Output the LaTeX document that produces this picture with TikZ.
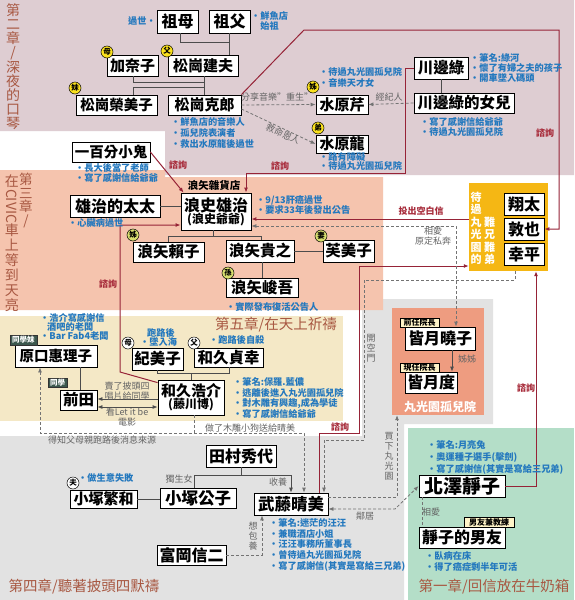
\documentclass[tikz,border=0pt]{standalone}
\usepackage{fontspec}
\setmainfont{Noto Sans CJK TC}
\usepackage{graphicx}
\usetikzlibrary{arrows.meta,shadows}
\definecolor{bgpink}{RGB}{222,205,210}
\definecolor{bgsalmon}{RGB}{245,196,174}
\definecolor{bgbeige}{RGB}{244,232,198}
\definecolor{bggray}{RGB}{226,226,226}
\definecolor{bggreen}{RGB}{180,222,200}
\definecolor{orph}{RGB}{238,156,128}
\definecolor{gold}{RGB}{245,183,20}
\definecolor{notec}{RGB}{35,120,190}
\definecolor{redc}{RGB}{168,45,60}
\definecolor{maroonc}{RGB}{150,35,55}
\definecolor{graytxt}{RGB}{100,100,100}
\definecolor{chap}{RGB}{168,88,66}
\definecolor{bdgY}{RGB}{250,225,30}
\definecolor{bdgG}{RGB}{215,222,110}
\definecolor{tagY}{RGB}{255,244,200}
\definecolor{tagD}{RGB}{60,88,78}
\newcounter{nid}
\newcommand\nbox[7]{\node[nm, minimum width={(#4)-(#2)}, minimum height={(#5)-(#3)}, font=\fontsize{#7}{#7}\selectfont\bfseries] (#1) at ({((#2)+(#4))/2},{((#3)+(#5))/2}) {#6};}
\newcommand\note[3]{\stepcounter{nid}\node[notes, anchor=west] (note\arabic{nid}) at (#1,#2) {#3};}
\newcommand\badge[4]{\stepcounter{nid}\node[badge, fill=#4] (bdg\arabic{nid}) at (#1,#2) {#3};}
\begin{document}
\begin{tikzpicture}[x=1pt,y=-1pt,
 nm/.style={draw=black, line width=0.8pt, fill=white, inner sep=0pt, drop shadow={shadow xshift=1.2pt, shadow yshift=-1.2pt, fill=black, opacity=0.3}},
 notes/.style={font=\fontsize{9.2}{10.5}\selectfont\bfseries, text=notec, inner sep=0pt, align=left},
 gl/.style={font=\fontsize{9}{10}\selectfont, text=graytxt, inner sep=0pt, align=center},
 rl/.style={font=\fontsize{9}{10}\selectfont\bfseries, text=redc, inner sep=0pt},
 chapv/.style={font=\fontsize{14}{14}\selectfont, text=chap, align=center, inner sep=0pt},
 chaph/.style={font=\fontsize{14.5}{15}\selectfont, text=chap, inner sep=0pt},
 vw/.style={font=\fontsize{11}{12.5}\selectfont\bfseries, text=white, align=center, inner sep=0pt},
 gv/.style={font=\fontsize{9}{10}\selectfont, text=graytxt, align=center, inner sep=0pt},
 badge/.style={circle, draw=black, line width=0.5pt, inner sep=0pt, minimum size=12pt, font=\fontsize{7.5}{7.5}\selectfont\bfseries},
 tagy/.style={draw=black, line width=0.5pt, fill=tagY, inner sep=0pt, font=\fontsize{8}{8}\selectfont\bfseries},
 tagd/.style={draw=black!80, line width=0.5pt, fill=tagD, text=white, inner sep=0pt, font=\fontsize{7.5}{7.5}\selectfont\bfseries},
 fam/.style={draw=black!70, line width=0.8pt},
 oneway/.style={-{Latex[length=5pt,width=4pt]}},
 twoway/.style={{Latex[length=5pt,width=4pt]}-{Latex[length=5pt,width=4pt]}},
 cons/.style={draw=maroonc, line width=1pt, -{Latex[length=5pt,width=4pt]}},
 rel/.style={draw=black!55, line width=0.8pt, dash pattern=on 3pt off 2pt},
]
\useasboundingbox (0,0) rectangle (574,600);
% ---------- backgrounds
\fill[white] (0,0) rectangle (574,600);
\fill[bgpink] (0,0) -- (574,0) -- (574,175) -- (165,175) -- (165,131) -- (0,131) -- cycle;
\fill[bggray] (0,436) -- (362,436) -- (362,299) -- (493,299) -- (493,424) -- (404,424) -- (404,600) -- (0,600) -- cycle;
\fill[bgsalmon] (0,170) -- (165,170) -- (165,177) -- (383,177) -- (383,310) -- (0,310) -- cycle;
\fill[bgbeige] (0,316) rectangle (343,421);
\fill[bggreen] (408,428) rectangle (574,600);
\node[fill=orph, minimum width=92, minimum height=107, inner sep=0pt] (maruko) at (438,361.5) {};
\node[fill=gold, minimum width=79, minimum height=88, inner sep=0pt] (bro) at (508.5,227) {};
% ---------- chapter titles
\node[chapv, anchor=north] (t2) at (13,3) {第\\二\\章\\/\\深\\夜\\的\\口\\琴};
\node[chapv, font=\fontsize{13.5}{13.5}\selectfont, anchor=north] (t3a) at (26,173) {第\\三\\章\\/};
\node[chapv, font=\fontsize{14}{15}\selectfont, anchor=north] (t3b) at (12,175) {在\\\rotatebox[origin=c]{-90}{CIVIC}\\車\\上\\等\\到\\天\\亮};
\node[chaph] (t5) at (276,325) {第五章/在天上祈禱};
\node[chaph] (t4) at (84,587) {第四章/聽著披頭四默禱};
\node[chaph] (t1) at (494,587) {第一章/回信放在牛奶箱};
% ---------- name boxes
\nbox{zumu}{157}{10}{198}{33}{祖母}{16}
\nbox{zufu}{209}{10}{250}{33}{祖父}{16}
\nbox{kanako}{107}{55}{158}{76}{加奈子}{15}
\nbox{tateo}{168}{55}{238}{76}{松崗建夫}{15}
\nbox{emiko}{76}{95}{157}{115}{松崗榮美子}{14.5}
\nbox{katsuro}{168}{95}{241}{115}{松崗克郎}{15}
\nbox{seri}{316}{95}{368}{114}{水原芹}{15}
\nbox{ryu}{316}{135}{368}{153}{水原龍}{15}
\nbox{midori}{414}{57}{468}{79}{川邊綠}{15.5}
\nbox{daughter}{414}{93}{514}{113}{川邊綠的女兒}{15.5}
\nbox{kid}{72}{142}{150}{162}{一百分小鬼}{14.5}
\nbox{wife}{70}{195}{160}{217}{雄治的太太}{16}
\node[nm, minimum width=70, minimum height=37, align=center, font=\bfseries] (yuji) at (216,211.5) {\fontsize{16}{17}\selectfont 浪史雄治\\\fontsize{12}{13}\selectfont (浪史爺爺)};
\nbox{yoriko}{133}{242}{204}{262}{浪矢賴子}{15.5}
\nbox{takayuki}{226}{240}{294}{262}{浪矢貴之}{15.5}
\nbox{fumiko}{323}{240}{374}{262}{芙美子}{15.5}
\nbox{shungo}{226}{278}{298}{297}{浪矢峻吾}{15.5}
\nbox{shota}{504}{193}{544}{215}{翔太}{16}
\nbox{atsuya}{504}{218}{544}{240}{敦也}{16}
\nbox{kohei}{504}{243}{544}{265}{幸平}{16}
\nbox{haraguchi}{15}{345}{97}{367}{原口惠理子}{14.5}
\nbox{maeda}{60}{390}{97}{410}{前田}{15.5}
\nbox{kimiko}{132}{348}{183}{370}{紀美子}{15.5}
\nbox{sadayuki}{194}{348}{263}{367}{和久貞幸}{15.5}
\node[nm, minimum width=66, minimum height=35, align=center, font=\bfseries] (kosuke) at (191,397.5) {\fontsize{15}{16}\selectfont 和久浩介\\\fontsize{12}{13}\selectfont (藤川博)};
\nbox{akiko}{405}{327}{475}{350}{皆月曉子}{16}
\nbox{tadashi}{405}{372}{457}{393}{皆月度}{16}
\nbox{shigekazu}{70}{490}{137}{508}{小塚繁和}{15}
\nbox{kimiko2}{160}{488}{236}{508}{小塚公子}{16.5}
\nbox{tamura}{206}{445}{276}{467}{田村秀代}{16}
\nbox{harumi}{254}{493}{328}{515}{武藤晴美}{16.5}
\nbox{tomioka}{157}{545}{226}{565}{富岡信二}{16}
\nbox{shizuko}{419}{475}{505}{497}{北澤靜子}{19}
\nbox{bf}{419}{527}{505}{548}{靜子的男友}{16}
% ---------- vertical texts in boxes
\node[vw, anchor=south] (v1) at (476,265) {待\\過\\丸\\光\\園\\的};
\node[vw, anchor=south] (v2) at (489.5,265) {難\\兄\\難\\弟};
\node[font=\fontsize{12}{12}\selectfont\bfseries, text=white, inner sep=0pt] (orphname) at (440,407) {丸光園孤兒院};
\node[font=\fontsize{10.5}{11}\selectfont\bfseries, inner sep=0pt] (store) at (214,185) {浪矢雜貨店};
% ---------- family lines
\coordinate (f1) at (180,42);
\draw[fam] (zumu.south -| f1) -- (f1) -- (f1 -| zufu.south);
\draw[fam] (zufu.south) -- (zufu.south |- tateo.north);
\coordinate (f2) at (133,82);
\draw[fam] (kanako.south -| f2) -- (f2) -- (f2 -| katsuro.north);
\draw[fam] (tateo.south -| katsuro.north) -- (katsuro.north);
\coordinate (f3) at (133,87);
\draw[fam] (f3 -| katsuro.north) -- (f3) -- (f3 |- emiko.north);
\draw[fam] (midori.south) -- (midori.south |- daughter.north);
\draw[fam] (wife.east) -- (wife.east -| yuji.west);
\coordinate (f4) at (168,236);
\coordinate (f5) at (261,236);
\coordinate (f6) at (213,236);
\draw[fam] (f6 |- yuji.south) -- (f6);
\draw[fam] (f4 |- yoriko.north) -- (f4) -- (f5) -- (f5 |- takayuki.north);
\draw[fam] (takayuki.east) -- (fumiko.west);
\draw[fam] (shungo.north) -- (shungo.north |- takayuki.south);
\coordinate (f7) at (80,380);
\draw[fam] (haraguchi.south -| f7) -- (maeda.north -| f7);
\coordinate (f8) at (157,373);
\coordinate (f9) at (229,373);
\draw[fam] (f8 |- kimiko.south) -- (f8) -- (f9) -- (f9 |- sadayuki.south);
\draw[fam] (kosuke.north) -- (kosuke.north |- f8);
\draw[fam] (shigekazu.east) -- (shigekazu.east -| kimiko2.west);
\coordinate (f10) at (194,475);
\coordinate (f11) at (291,475);
\draw[fam] (tamura.south) -- (tamura.south |- f10);
\draw[fam] (f10 |- kimiko2.north) -- (f10) -- (f11);
\draw[fam, oneway] (f11) -- (f11 |- harumi.north);
\coordinate (f12) at (452,360);
\draw[fam, oneway] (f12 |- akiko.south) -- (f12 |- tadashi.north);
\coordinate (f13) at (127,399);
\coordinate (f14) at (127,407);
\draw[fam, oneway] (kosuke.west |- f13) -- (maeda.east |- f13);
\draw[fam, twoway] (maeda.east |- f14) -- (kosuke.west |- f14);
% ---------- consultation lines
\coordinate (c1) at (304,30);
\coordinate (c2) at (559,30);
\draw[cons] (katsuro.north east) -- (c1) -- (c2) |- (atsuya.east);
\coordinate (c3) at (405,68);
\coordinate (c4) at (405,173);
\coordinate (c5) at (246,173);
\draw[cons] (midori.west |- c3) -- (c3) -- (c4) -- (c5) -- (c5 |- yuji.north);
\draw[cons] (kid.east) -- ([xshift=3pt]yuji.north west);
\coordinate (c6) at (120,372);
\coordinate (c7) at (120,225);
\draw[cons] ([yshift=-3pt]kosuke.north west) -- (c6) -- (c7) -- (c7 -| yuji.west);
\coordinate (c8) at (469,219);
\draw[cons] (bro.west |- c8) -- (c8 -| yuji.east);
\coordinate (c9) at (319,433);
\coordinate (c10) at (359,433);
\coordinate (c11) at (359,266);
\draw[cons] (harumi.north -| c9) -- (c9) -- (c10) -- (c11) -- (c11 -| bro.west);
\coordinate (c12) at (536,486);
\draw[cons] (shizuko.east) -- (c12) -- (c12 |- bro.south);
% ---------- relation lines (dashed)
\draw[rel, oneway] (katsuro.east) -- (seri.west);
\draw[rel, oneway] ([yshift=-4pt]katsuro.east) -- (ryu.west);
\draw[rel, oneway] (daughter.west) -- (seri.east);
\coordinate (r1) at (456,226);
\draw[rel, twoway] (r1 -| yuji.east) -- (r1) -- (r1 |- akiko.north);
\coordinate (r2) at (515,280);
\coordinate (r3) at (364,280);
\coordinate (r4) at (364,440);
\coordinate (r5) at (324,440);
\draw[rel, oneway] (bro.south -| r2) -- (r2) -- (r3) -- (r4) -- (r5) -- (r5 |- harumi.north);
\coordinate (r6) at (194,433);
\coordinate (r7) at (40,433);
\coordinate (r8) at (304,433);
\draw[rel, oneway] (kosuke.south -| r6) -- (r6) -- (r7) -- (r7 |- haraguchi.south);
\draw[rel, oneway] (r6) -- (r8) -- (r8 |- harumi.north);
\coordinate (r9) at (395,509);
\draw[rel, twoway] (harumi.east |- r9) -- (r9) -- (shizuko.west);
\coordinate (r10) at (397,497);
\draw[rel, oneway] (harumi.east |- r10) -- (r10) -- (r10 |- maruko.south);
\coordinate (r11) at (262,555);
\draw[rel, oneway] (tomioka.east |- r11) -- (r11) -- (r11 |- harumi.south);
\coordinate (r12) at (422,512);
\draw[rel] (r12 |- shizuko.south) -- (r12 |- bf.north);
% ---------- tags
\node[tagd, minimum width=27, minimum height=10] (g1) at (23.5,340) {同學妹};
\node[tagd, minimum width=19, minimum height=9] (g2) at (57.5,382.5) {同學};
\node[tagy, minimum width=39, minimum height=9.5] (g3) at (419.5,322.5) {前任院長};
\node[tagy, minimum width=39, minimum height=9.5] (g4) at (419.5,367.5) {現任院長};
\node[tagy, minimum width=50, minimum height=10] (g5) at (489,522) {男友兼教練};
% ---------- badges
\badge{107}{52}{母}{bdgY}
\badge{167}{51}{父}{bdgY}
\badge{75}{88}{妹}{bdgY}
\badge{313}{87}{姊}{bdgY}
\badge{318}{128}{弟}{bdgY}
\badge{133}{235}{姊}{bdgG}
\badge{321}{236}{妻}{bdgG}
\badge{228}{273}{孫}{bdgG}
\badge{128}{343}{母}{white}
\badge{194}{343}{父}{white}
\badge{73}{483}{夫}{white}
% ---------- notes
\node[notes, anchor=east] (nz) at (156,21) {過世•};
\node[notes, anchor=north west, align=center] (nf) at (251,11) {•鮮魚店\\始祖};
\note{171}{122}{•鮮魚店的音樂人}
\note{171}{133}{•孤兒院表演者}
\note{171}{144}{•救出水原龍後過世}
\note{319}{72}{•待過丸光園孤兒院}
\note{319}{83}{•音樂天才女}
\note{319}{157}{•路有障礙}
\note{319}{166}{•待過丸光園孤兒院}
\note{470}{57.5}{•筆名:綠河}
\note{470}{68}{•懷了有婦之夫的孩子}
\note{470}{78.5}{•開車墜入碼頭}
\note{420}{122}{•寫了感謝信給爺爺}
\note{420}{132}{•待過丸光園孤兒院}
\note{75}{168}{•長大後當了老師}
\note{75}{178}{•寫了感謝信給爺爺}
\note{68}{223}{•心臟病過世}
\note{256}{200}{•9/13肝癌過世}
\note{256}{210}{•要求33年後發出公告}
\note{226}{307}{•實際發布復活公告人}
\note{40}{318}{•浩介寫感謝信}
\note{47}{327}{酒吧的老闆}
\note{40}{336}{•Bar Fab4老闆}
\note{147}{333}{跑路後}
\note{140}{342}{•墜入海}
\note{209}{340}{•跑路後自殺}
\note{233}{382}{•筆名:保羅.藍儂}
\note{233}{393}{•逃離後進入丸光園孤兒院}
\note{233}{404}{•對木雕有興趣,成為學徒}
\note{233}{414}{•寫了感謝信給爺爺}
\note{78}{478}{•做生意失敗}
\note{269}{523}{•筆名:迷茫的汪汪}
\note{269}{534}{•兼職酒店小姐}
\note{269}{544.5}{•汪汪事務所董事長}
\note{269}{555}{•曾待過丸光園孤兒院}
\note{269}{566}{•寫了感謝信(其實是寫給三兄弟)}
\note{427}{445}{•筆名:月亮兔}
\note{427}{457}{•奧運種子選手(擊劍)}
\note{427}{469}{•寫了感謝信(其實是寫給三兄弟)}
\note{425}{556}{•臥病在床}
\note{425}{567}{•得了癌症剩半年可活}
% ---------- red labels
\node[rl] (l1) at (545,133) {諮詢};
\node[rl] (l2) at (280,166) {諮詢};
\node[rl] (l3) at (178,165) {諮詢};
\node[rl] (l4) at (108,284) {諮詢};
\node[rl] (l5) at (340,427) {諮詢};
\node[rl] (l6) at (526,388) {諮詢};
\node[rl] (l7) at (421,211) {投出空白信};
% ---------- gray labels
\node[gl] (k1) at (277,97) {分享音樂"重生"};
\node[gl, rotate=-24] (k2) at (283,134) {救命恩人};
\node[gl] (k3) at (389,97) {經紀人};
\node[gl] (k4) at (433,236) {相愛\\原定私奔};
\node[gl] (k5) at (467,359) {姊姊};
\node[gl] (k6) at (278,482) {收養};
\node[gl] (k7) at (365,516) {鄰居};
\node[gl] (k8) at (431,512) {相愛};
\node[gl] (k9) at (102,440) {得知父母親跑路後消息來源};
\node[gl] (k10) at (250,428) {做了木雕小狗送給晴美};
\node[gl] (k11) at (127,391) {賣了披頭四\\唱片給同學};
\node[gl] (k12) at (127,417) {看Let it be\\電影};
\node[gl] (k13) at (179,479) {獨生女};
\node[gv, anchor=north] (k14) at (371,334) {開\\空\\門};
\node[gv, anchor=north] (k15) at (389,432) {買\\下\\丸\\光\\園};
\node[gv, anchor=north] (k16) at (253,522) {想\\包\\養};
\end{tikzpicture}
\end{document}
